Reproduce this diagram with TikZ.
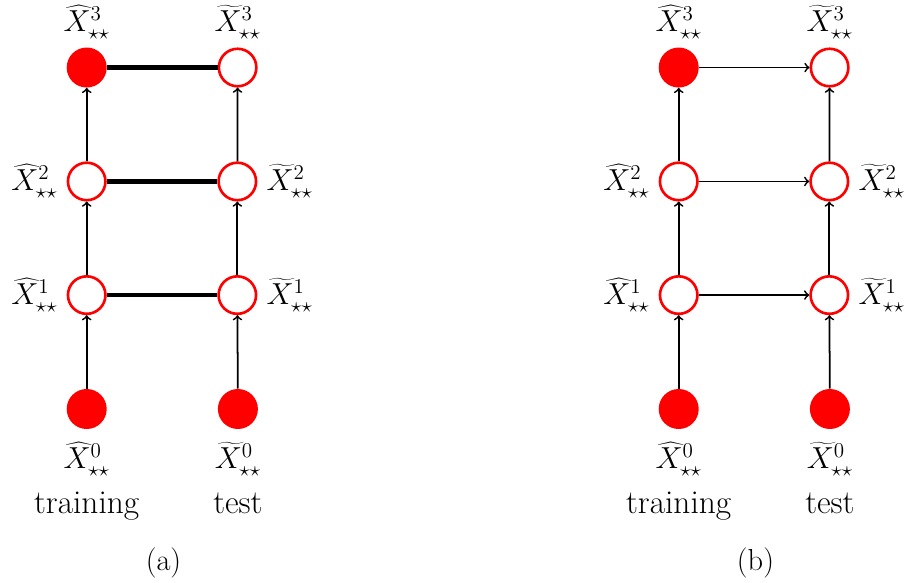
\documentclass[tikz,border=0pt]{standalone}
\usepackage{fontspec}
\usetikzlibrary{positioning}
\begin{document}
\begin{tikzpicture}[
    node distance=1.47cm and 2.21cm,
    every node/.style={font=\fontsize{17.28}{21}\selectfont},
    full/.style={circle, fill=red, minimum size=0.8cm, inner sep=0pt},
    hollow/.style={circle, draw=red, line width=1.5pt, fill=white, minimum size=0.75cm, inner sep=0pt},
    flow/.style={->, line width=1pt},
    tie/.style={line width=2.4pt},
    tag/.style={inner sep=1pt},
    word/.style={inner sep=1pt, text height=0.7em, text depth=0.22em, font=\fontsize{19}{23}\selectfont}
]
    \useasboundingbox (0,0) rectangle (18.12,-11.66);
    \foreach \p/\dx/\link/\lab in {a/0/tie/(a), b/11.84/flow/(b)} {
        % training column
        \node[full] (\p h0) at (1.734+\dx,-8.18) {};
        \node[hollow, above=of \p h0] (\p h1) {};
        \node[hollow, above=of \p h1] (\p h2) {};
        \node[full, above=of \p h2] (\p h3) {};
        % test column
        \node[full, right=of \p h0] (\p t0) {};
        \node[hollow, right=of \p h1] (\p t1) {};
        \node[hollow, right=of \p h2] (\p t2) {};
        \node[hollow, right=of \p h3] (\p t3) {};

        \node[tag, above=0.12cm of \p h3] (\p lh3) {$\widehat{X}^3_{\star\star}$};
        \node[tag, above=0.12cm of \p t3] (\p lt3) {$\widetilde{X}^3_{\star\star}$};
        \node[tag, left=0.14cm of \p h2] (\p lh2) {$\widehat{X}^2_{\star\star}$};
        \node[tag, right=0.14cm of \p t2] (\p lt2) {$\widetilde{X}^2_{\star\star}$};
        \node[tag, left=0.14cm of \p h1] (\p lh1) {$\widehat{X}^1_{\star\star}$};
        \node[tag, right=0.14cm of \p t1] (\p lt1) {$\widetilde{X}^1_{\star\star}$};
        \node[tag, below=0.22cm of \p h0] (\p lh0) {$\widehat{X}^0_{\star\star}$};
        \node[tag, below=0.22cm of \p t0] (\p lt0) {$\widetilde{X}^0_{\star\star}$};
        \node[word, below=0.42cm of \p lh0] (\p train) {training};
        \node[word, below=0.42cm of \p lt0] (\p test) {test};
        \node[word, font=\fontsize{17.28}{21}\selectfont] (\p cap) at (3.27+\dx,-11.33) {\lab};

        \foreach \c in {h,t} {
            \draw[flow] (\p\c0) -- (\p\c1);
            \draw[flow] (\p\c1) -- (\p\c2);
            \draw[flow] (\p\c2) -- (\p\c3);
        }
        \foreach \r in {1,2,3}
            \draw[\link] (\p h\r) -- (\p t\r);
    }
\end{tikzpicture}
\end{document}
